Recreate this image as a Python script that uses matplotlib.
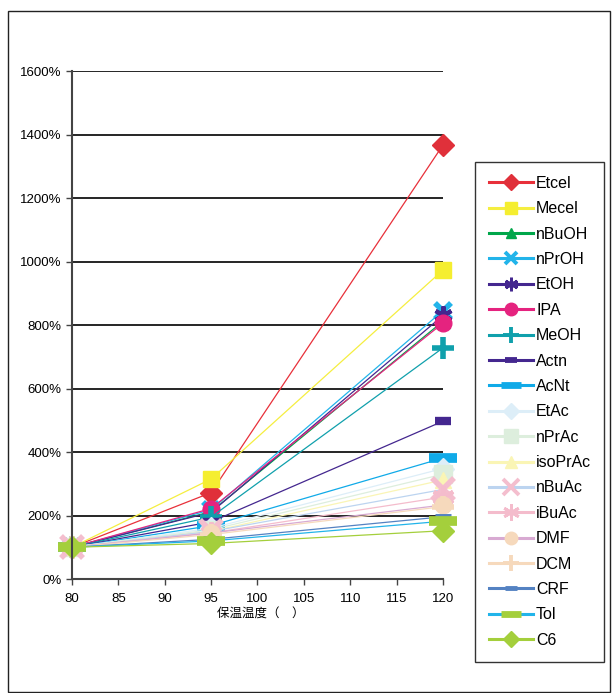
import matplotlib.pyplot as plt
from matplotlib.lines import Line2D
from matplotlib.patches import Rectangle

plt.rcParams['font.family'] = ['Liberation Sans', 'Noto Sans CJK SC', 'DejaVu Sans']

# 温度点
temps = [80, 95, 120]

# 各溶剂的相对值（%）
names = ["Etcel", "Mecel", "nBuOH", "nPrOH", "EtOH", "IPA", "MeOH", "Actn", "AcNt",
         "EtAc", "nPrAc", "isoPrAc", "nBuAc", "iBuAc", "DMF", "DCM", "CRF", "Tol", "C6"]
etcel = [100, 272, 1367]
mecel = [100, 315, 973]
nbuoh = [100, 212, 812]
nproh = [100, 218, 845]
etoh = [100, 210, 830]
ipa = [100, 222, 806]
meoh = [100, 195, 728]
actn = [100, 180, 497]
acnt = [100, 168, 381]
etac = [100, 160, 348]
nprac = [100, 155, 330]
isoprac = [100, 150, 312]
nbuac = [100, 150, 282]
ibuac = [100, 145, 258]
dmf = [100, 145, 233]
dcm = [100, 140, 228]
crf = [100, 125, 196]
tol = [100, 120, 182]
c6 = [100, 112, 152]
series = [etcel, mecel, nbuoh, nproh, etoh, ipa, meoh, actn, acnt,
          etac, nprac, isoprac, nbuac, ibuac, dmf, dcm, crf, tol, c6]

# (线色, 标记色, 标记, 标记大小, 标记线宽)
styles = [
    ("#E8303A", "#E0303A", "D", 11, 1),
    ("#F5EE40", "#F5EE30", "s", 12, 1),
    ("#00A64A", "#00A64A", "^", 10, 1),
    ("#22B4EA", "#22B4EA", "x", 12, 4),
    ("#44278F", "#44278F", (6, 2, 0), 13, 3),
    ("#E5237F", "#E5237F", "o", 12, 1),
    ("#10A0AC", "#10A0AC", "+", 16, 4),
    ("#44278F", "#44278F", "_", 12, 6),
    ("#10AAE8", "#10AAE8", "_", 20, 7),
    ("#DDEEF8", "#DDEEF8", "D", 11, 1),
    ("#DDEEDD", "#DDEEDD", "s", 13, 1),
    ("#FAF5B5", "#FAF5B5", "^", 11, 1),
    ("#BCD4F0", "#F4BECE", "x", 16, 4),
    ("#F4BCCC", "#F4BCCC", (6, 2, 0), 16, 3),
    ("#D8AAD2", "#F6D9BC", "o", 12, 1),
    ("#F6D9BC", "#F6D9BC", "+", 16, 4),
    ("#5482C2", "#5482C2", "_", 12, 5),
    ("#22B4EA", "#A4CF3C", "_", 20, 7),
    ("#A4CF3C", "#A4CF3C", "D", 11, 1),
]

fig = plt.figure(figsize=(6.12, 6.93), dpi=100)
fig.patches.append(Rectangle((8 / 612, 1 / 693), 602 / 612, 681 / 693, transform=fig.transFigure,
                             fill=False, edgecolor="#222222", linewidth=1.0))
ax = fig.add_axes([0.1176, 0.1645, 0.6062, 0.733])

handles = []
for name, vals, (lc, mc, mk, ms, mew) in zip(names, series, styles):
    ax.plot(temps, vals, color=lc, linewidth=0.9, marker=mk, markersize=ms,
            markerfacecolor=mc, markeredgecolor=mc, markeredgewidth=mew, clip_on=False)
    handles.append(Line2D([], [], color=lc, linewidth=2.2, marker=mk, markersize=ms * 0.75,
                          markerfacecolor=mc, markeredgecolor=mc, markeredgewidth=max(1, mew * 0.7)))

ax.set_xlim(80, 120)
ax.set_ylim(0, 1600)
ax.set_xticks(range(80, 121, 5))
ax.set_yticks(range(0, 1601, 200))
ax.set_yticklabels([f"{v}%" for v in range(0, 1601, 200)])
ax.grid(axis="y", color="black", linewidth=1.2)
ax.set_axisbelow(True)
for s in ("top", "right"):
    ax.spines[s].set_visible(False)
for s in ("left", "bottom"):
    ax.spines[s].set_color("#444444")
    ax.spines[s].set_linewidth(1.5)
ax.tick_params(labelsize=9.5, length=4, width=1, color="#444444")
ax.tick_params(axis="x", pad=6)
ax.set_xlabel("保温温度（　）", fontsize=9, labelpad=3, x=0.51)

fig.legend(handles, names, loc="upper left", mode="expand",
           bbox_to_anchor=(475 / 612, 37 / 693, 129 / 612, 494 / 693), borderaxespad=0,
           frameon=True, fancybox=False, edgecolor="black", fontsize=11.5,
           labelspacing=0.65, handlelength=2.76, handletextpad=0.19, borderpad=0.87)

fig.savefig("out.png", dpi=100)
